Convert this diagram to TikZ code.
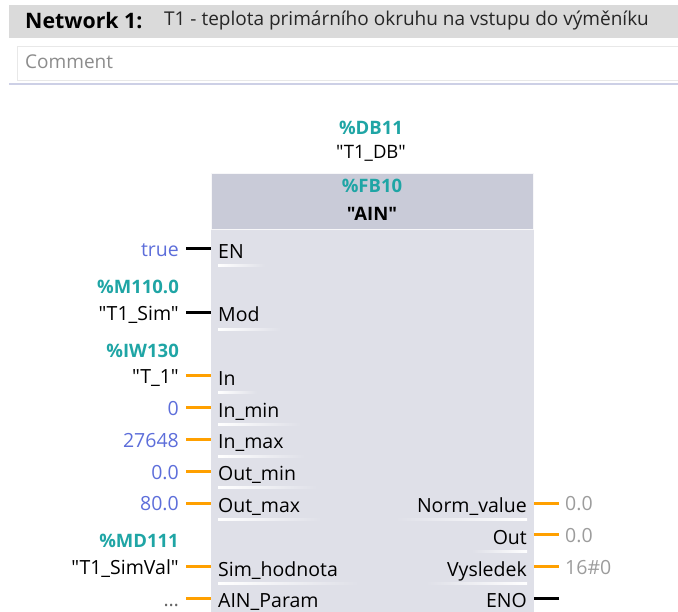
\documentclass[tikz,border=0pt]{standalone}
\usepackage{fontspec}
\setmainfont{Open Sans}[Ligatures=TeXOff]
\usetikzlibrary{positioning}
\definecolor{barGray}{HTML}{DADADA}
\definecolor{boxEdge}{HTML}{E8E8E8}
\definecolor{sepLine}{HTML}{CDD0E6}
\definecolor{hdrFill}{HTML}{C9CBD8}
\definecolor{bodyFill}{HTML}{DFE0E8}
\definecolor{addrTeal}{HTML}{1FA5A5}
\definecolor{constBlue}{HTML}{5D6EDA}
\definecolor{outGray}{HTML}{9C9C9C}
\definecolor{wireOrange}{HTML}{FFA000}
\tikzset{
  every node/.style={inner sep=0pt},
  txt/.style={font=\fontsize{19.5}{22}\selectfont, text height=16pt, text depth=0pt},
  addr/.style={text=addrTeal, font=\bfseries\fontsize{18.5}{21}\selectfont},
  pinleft/.style={txt, anchor=west, inner xsep=7pt},
  pinright/.style={txt, anchor=east, inner xsep=7pt},
  wire/.style={line width=3pt}
}
\begin{document}
\begin{tikzpicture}[x=1pt,y=-1pt]
	\useasboundingbox (0,0) rectangle (678,612);
	% network title and comment
	\fill[barGray] (9,5) rectangle (678,38);
	\node[anchor=west, font=\bfseries\fontsize{21.3}{24}\selectfont] (nw) at (25,21) {Network 1:};
	\node[anchor=west, font=\fontsize{19}{22}\selectfont, text=black!85] (title) at (164,21) {T1 - teplota primárního okruhu na vstupu do výměníku};
	\draw[boxEdge, fill=white] (17.5,46.5) rectangle (680,80.5);
	\node[anchor=west, font=\fontsize{19}{22}\selectfont, text=black!45] (cmt) at (25,62) {Comment};
	\draw[sepLine, line width=1.5pt] (9,84) -- (678,84);
	% block
	\fill[bodyFill] (211,173) rectangle (534,615);
	\draw[white!85!hdrFill, fill=hdrFill, line width=1pt] (211.5,173.5) rectangle (533.5,230);
	\node[addr] (db) at (371,128) {\%DB11};
	\node[font=\fontsize{18.5}{21}\selectfont] (dbname) at (371,153) {"T1\_DB"};
	\node[addr] (fb) at (372,186) {\%FB10};
	\node[font=\bfseries\fontsize{18.5}{21}\selectfont] (fbname) at (372,214) {"AIN"};
	\coordinate (blkW) at (211,0);
	\coordinate (blkE) at (534,0);
	% inputs
	\foreach \k/\Pin/\Val/\ValCol/\WireCol/\Addr in {0/EN/true/constBlue/black/{},2/Mod/"T1\_Sim"/black/black/\%M110.0,4/In/"T\_1"/black/wireOrange/\%IW130,5/In\_min/0/constBlue/wireOrange/{},6/In\_max/27648/constBlue/wireOrange/{},7/Out\_min/0.0/constBlue/wireOrange/{},8/Out\_max/80.0/constBlue/wireOrange/{},10/Sim\_hodnota/"T1\_SimVal"/black/wireOrange/\%MD111,11/AIN\_Param/\ldots/black!60/wireOrange/{}}
	{
		\pgfmathsetmacro\y{249+\k*31.75}
		\node[txt, anchor=east, inner xsep=7pt, text=\ValCol] (in\k) at (186,\y) {\Val};
		\node[pinleft] (pin\k) at (blkW |- 0,\y+1.5) {\Pin};
		\node[addr, anchor=east] (ad\k) at (179,\y-25.5) {\Addr};
		\draw[wire, \WireCol] (in\k.east) -- (in\k.east -| blkW);
		\shade[left color=white, right color=bodyFill] ([xshift=7pt,yshift=-6pt]pin\k.south west) rectangle ([xshift=14pt,yshift=-8pt]pin\k.south east);
	}
	% outputs
	\foreach \k/\Pin/\Val in {8/Norm\_value/0.0,9/Out/0.0,10/Vysledek/16\#0}
	{
		\pgfmathsetmacro\y{249+\k*31.75}
		\node[txt, anchor=west, inner xsep=6pt, text=outGray] (out\k) at (559,\y) {\Val};
		\node[pinright] (opin\k) at (blkE |- 0,\y+1.5) {\Pin};
		\draw[wire, wireOrange] (out\k.west) -- (out\k.west -| blkE);
		\shade[left color=bodyFill, right color=white] ([xshift=-14pt,yshift=-6pt]opin\k.south west) rectangle ([xshift=-7pt,yshift=-8pt]opin\k.south east);
	}
	\node[pinright] (eno) at (534,599) {ENO};
	\coordinate (enoEnd) at (559,598.25);
	\draw[wire] (enoEnd) -- (enoEnd -| blkE);
\end{tikzpicture}
\end{document}
